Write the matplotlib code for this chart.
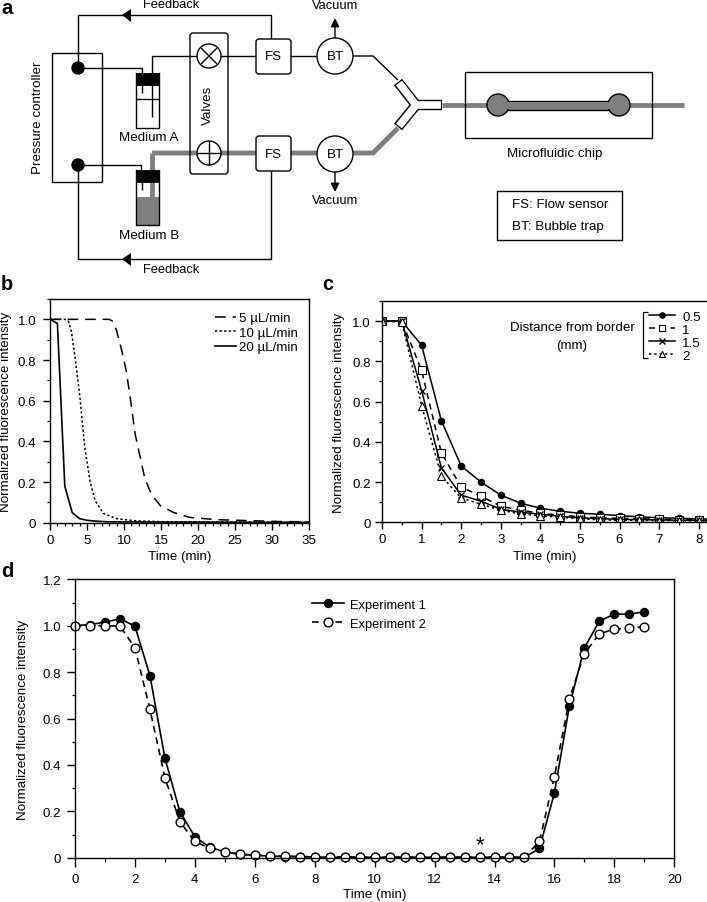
import matplotlib
matplotlib.use('Agg')
import matplotlib.pyplot as plt
from matplotlib.patches import Rectangle, FancyBboxPatch, Circle, Polygon
from matplotlib.ticker import MultipleLocator

plt.rcParams['font.family'] = ['Liberation Sans', 'DejaVu Sans']
plt.rcParams['font.size'] = 9.6
plt.rcParams['axes.linewidth'] = 1.0

W, H = 707, 903
GRAY = '#7f7f7f'

# panel b
t_5 = [0, 8, 8.5, 9, 9.7, 10.3, 10.9, 11.5, 12.2, 12.8, 13.7, 14.9, 16.7, 18.9, 22.5, 27, 31, 35]
v_5 = [1.0, 1.0, 0.99, 0.944, 0.846, 0.747, 0.6, 0.436, 0.32, 0.22, 0.14, 0.084, 0.05, 0.026, 0.015, 0.01, 0.006, 0.004]
t_10 = [0, 2, 2.5, 2.9, 3.5, 4.05, 4.7, 5.4, 6.1, 7.2, 9, 11.3, 15, 35]
v_10 = [1.0, 1.0, 0.99, 0.94, 0.78, 0.616, 0.37, 0.206, 0.108, 0.046, 0.02, 0.01, 0.005, 0.002]
t_20 = [0, 1, 2, 3, 4, 5, 6, 8, 35]
v_20 = [1.0, 0.98, 0.18, 0.05, 0.02, 0.012, 0.008, 0.004, 0.001]

# panel c
t_c = [0, 0.5, 1, 1.5, 2, 2.5, 3, 3.5, 4, 4.5, 5, 5.5, 6, 6.5, 7, 7.5, 8, 8.5]
d_05 = [1, 1, 0.88, 0.505, 0.28, 0.2, 0.135, 0.095, 0.07, 0.055, 0.045, 0.04, 0.033, 0.027, 0.023, 0.02, 0.017, 0.015]
d_1 = [1, 1, 0.755, 0.345, 0.175, 0.13, 0.08, 0.06, 0.045, 0.035, 0.028, 0.022, 0.02, 0.018, 0.015, 0.013, 0.012, 0.01]
d_15 = [1, 1, 0.655, 0.27, 0.135, 0.105, 0.065, 0.05, 0.04, 0.03, 0.022, 0.018, 0.015, 0.013, 0.012, 0.01, 0.01, 0.008]
d_2 = [1, 0.995, 0.58, 0.23, 0.12, 0.09, 0.06, 0.042, 0.032, 0.025, 0.018, 0.012, 0.01, 0.01, 0.008, 0.008, 0.007, 0.006]

# panel d
t_d = [0, 0.5, 1, 1.5, 2, 2.5, 3, 3.5, 4, 4.5, 5, 5.5, 6, 6.5, 7, 7.5, 8, 8.5, 9, 9.5,
       10, 10.5, 11, 11.5, 12, 12.5, 13, 13.5, 14, 14.5, 15, 15.5, 16, 16.5, 17, 17.5, 18, 18.5, 19]
exp1 = [1.0, 1.005, 1.015, 1.03, 0.998, 0.785, 0.43, 0.198, 0.09, 0.045, 0.025, 0.015, 0.01, 0.007, 0.005, 0.004, 0.003, 0.002, 0.002, 0.002,
        0.002, 0.002, 0.002, 0.002, 0.002, 0.002, 0.002, 0.002, 0.002, 0.002, 0.001, 0.04, 0.28, 0.655, 0.905, 1.02, 1.05, 1.05, 1.06]
exp2 = [1.0, 1.0, 1.0, 0.998, 0.905, 0.64, 0.345, 0.155, 0.07, 0.04, 0.025, 0.015, 0.012, 0.009, 0.007, 0.005, 0.004, 0.003, 0.003, 0.003,
        0.002, 0.002, 0.002, 0.002, 0.002, 0.002, 0.002, 0.002, 0.002, 0.002, 0.002, 0.07, 0.35, 0.685, 0.88, 0.965, 0.985, 0.99, 0.995]

fig = plt.figure(figsize=(W / 100, H / 100), dpi=100)


def px_axes(x0, x1, ytop, ybot):
    return fig.add_axes([x0 / W, 1 - ybot / H, (x1 - x0) / W, (ybot - ytop) / H])


# overlay in pixel units for the schematic and the panel letters
ov = fig.add_axes([0, 0, 1, 1], zorder=5)
ov.set_xlim(0, W)
ov.set_ylim(H, 0)
ov.axis('off')
ov.patch.set_alpha(0)


def path(xs, ys, lw=1.0, c='black', z=2):
    ov.plot(xs, ys, color=c, lw=lw, solid_capstyle='butt', solid_joinstyle='miter', zorder=z)


def rbox(x0, y0, x1, y1, r=3, fc='white', lw=1.0, z=4):
    ov.add_patch(FancyBboxPatch((x0 + r, y0 + r), x1 - x0 - 2 * r, y1 - y0 - 2 * r,
                                boxstyle='round,pad=%d' % r, fc=fc, ec='black', lw=lw, zorder=z))


def bottle(y0, filled):
    ov.add_patch(Rectangle((136, y0), 23, 55, fc='white', ec='none', zorder=1))
    if filled:
        ov.add_patch(Rectangle((136, y0 + 27), 23, 28, fc=GRAY, ec='none', zorder=1.5))
    ov.plot([136, 136, 159, 159], [y0, y0 + 55, y0 + 55, y0], color='black', lw=1.0, zorder=3)
    ov.add_patch(Rectangle((136, y0), 23, 12, fc='black', ec='black', lw=0.6, zorder=3))
    path([142, 142], [y0 + 12, y0 + 20])


# thin and thick tubing
path([78, 78, 271, 271], [69, 16, 16, 40])
path([78, 78, 271, 271], [166, 260, 260, 172])
path([78, 142, 142], [69, 69, 74])
path([78, 141, 141], [166, 166, 171])
path([152, 152, 353], [118, 57, 57])
path([353, 373, 398], [57, 57, 81])
path([152, 152], [198, 154], lw=3.5, c=GRAY, z=2.5)
path([152, 353, 373, 398], [154, 154, 154, 129], lw=3.5, c=GRAY)
path([442, 684], [106, 106], lw=3.5, c=GRAY)

ov.add_patch(Rectangle((52, 54), 50, 129, fc='none', ec='black', lw=1.0, zorder=1))
ov.add_patch(Circle((78, 69), 6, fc='black', ec='black', zorder=3))
ov.add_patch(Circle((78, 166), 6, fc='black', ec='black', zorder=3))
ov.add_patch(Polygon([[122, 16], [131, 10], [131, 23]], fc='black', ec='none', zorder=3))
ov.add_patch(Polygon([[122, 260], [131, 254], [131, 267]], fc='black', ec='none', zorder=3))

bottle(74, False)
path([136, 159], [100, 100], z=3)
bottle(171, True)

# valves, sensors and traps
rbox(190, 34, 228, 175, r=3, fc='none', z=3)
for yc in [57, 154]:
    ov.add_patch(Circle((209, yc), 12, fc='white', ec='black', lw=1.0, zorder=4))
path([201, 217], [49, 65], z=5)
path([201, 217], [65, 49], z=5)
path([197, 221], [154, 154], z=5)
path([209, 209], [142, 166], z=5)
for y0 in [40, 137]:
    rbox(256, y0, 291, y0 + 35, r=3)
    ov.text(273.5, y0 + 17.5, 'FS', ha='center', va='center', zorder=6)
for yc in [57, 155]:
    ov.add_patch(Circle((335, yc), 18, fc='white', ec='black', lw=1.0, zorder=4))
    ov.text(335, yc, 'BT', ha='center', va='center', zorder=6)
head = dict(arrowstyle='-|>', color='black', lw=1, shrinkA=0, shrinkB=0, mutation_scale=13)
ov.annotate('', xy=(335, 19), xytext=(335, 39), arrowprops=head)
ov.annotate('', xy=(335, 193), xytext=(335, 173), arrowprops=head)

# Y connector
ov.plot([398, 416], [83, 106], color='black', lw=7.5, solid_capstyle='butt', zorder=3)
ov.plot([398, 416], [128, 106], color='black', lw=7.5, solid_capstyle='butt', zorder=3)
ov.plot([416, 442], [106, 106], color='black', lw=7.5, solid_capstyle='butt', zorder=3)
ov.plot([399, 416], [84, 106], color='white', lw=5.5, solid_capstyle='butt', zorder=3.1)
ov.plot([399, 416], [127, 106], color='white', lw=5.5, solid_capstyle='butt', zorder=3.1)
ov.plot([416, 441], [106, 106], color='white', lw=5.5, solid_capstyle='butt', zorder=3.1)

# chip
ov.add_patch(Rectangle((465, 73), 187, 66, fc='none', ec='black', lw=1.0, zorder=3))
ov.add_patch(Rectangle((498, 102), 121, 9, fc=GRAY, ec='black', lw=1.0, zorder=3))
for xc in [498, 619]:
    ov.add_patch(Circle((xc, 106), 11, fc=GRAY, ec='black', lw=1.0, zorder=3.2))
ov.add_patch(Rectangle((505, 103), 107, 7, fc=GRAY, ec='none', zorder=3.3))
ov.add_patch(Rectangle((497, 192), 125, 49, fc='none', ec='black', lw=1.0, zorder=3))

ov.text(171, 5, 'Feedback', ha='center', va='center', fontsize=9.3)
ov.text(171, 270, 'Feedback', ha='center', va='center', fontsize=9.3)
ov.text(335, 6, 'Vacuum', ha='center', va='center', fontsize=9.3)
ov.text(335, 201, 'Vacuum', ha='center', va='center', fontsize=9.3)
ov.text(149, 138, 'Medium A', ha='center', va='center')
ov.text(149, 236, 'Medium B', ha='center', va='center')
ov.text(38, 118, 'Pressure controller', ha='center', va='center', rotation=90)
ov.text(208, 105, 'Valves', ha='center', va='center', rotation=90, zorder=6)
ov.text(555, 154, 'Microfluidic chip', ha='center', va='center')
ov.text(512, 205, 'FS: Flow sensor', ha='left', va='center')
ov.text(512, 227, 'BT: Bubble trap', ha='left', va='center')

for letter, lx, ly in [('a', 1, 9), ('b', 1, 285), ('c', 322, 285), ('d', 1, 572)]:
    ov.text(lx, ly, letter, fontsize=14.5, fontweight='bold', ha='left', va='center')

# panel b
ax = px_axes(50, 309, 300, 523.7)
ax.plot(t_5, v_5, color='black', lw=1.1, linestyle=(0, (7, 4.5)), label='5 µL/min')
ax.plot(t_10, v_10, color='black', lw=1.1, linestyle=(0, (1.5, 1.5)), label='10 µL/min')
ax.plot(t_20, v_20, color='black', lw=1.2, label='20 µL/min')
ax.set_xlim(0, 35)
ax.set_ylim(0, 1.1)
ax.xaxis.set_major_locator(MultipleLocator(5))
ax.xaxis.set_minor_locator(MultipleLocator(1))
ax.set_yticks([0, 0.2, 0.4, 0.6, 0.8, 1.0], ['0', '0.2', '0.4', '0.6', '0.8', '1.0'])
ax.yaxis.set_minor_locator(MultipleLocator(0.1))
ax.tick_params(which='major', length=5, width=1.0)
ax.tick_params(which='minor', length=2.5, width=0.9)
ax.tick_params(axis='x', which='major', pad=3)
ax.tick_params(axis='y', which='major', pad=5)
ax.set_xlabel('Time (min)', labelpad=3)
ax.set_ylabel('Normalized fluorescence intensity', labelpad=4)
ax.legend(loc='upper right', bbox_to_anchor=(0.957, 0.942), frameon=False, handlelength=1.6,
          handletextpad=0.2, labelspacing=0.16, borderpad=0, borderaxespad=0)

# panel c
ax = px_axes(382, 706.7, 302, 523.3)
ax.plot(t_c, d_05, color='black', lw=1.1, marker='o', ms=4.4, mfc='black', label='0.5')
ax.plot(t_c, d_1, color='black', lw=1.1, linestyle=(0, (4, 3)), marker='s', ms=5.5, mfc='white', mew=0.8, label='1')
ax.plot(t_c, d_15, color='black', lw=1.1, marker='x', ms=5, mew=1, label='1.5')
ax.plot(t_c, d_2, color='black', lw=1.1, linestyle=(0, (1.5, 2)), marker='^', ms=5.5, mfc='white', mew=0.8, label='2')
ax.set_xlim(0, 8.2)
ax.set_ylim(0, 1.1)
ax.xaxis.set_major_locator(MultipleLocator(1))
ax.xaxis.set_minor_locator(MultipleLocator(0.5))
ax.set_yticks([0, 0.2, 0.4, 0.6, 0.8, 1.0], ['0', '0.2', '0.4', '0.6', '0.8', '1.0'])
ax.yaxis.set_minor_locator(MultipleLocator(0.1))
ax.tick_params(which='major', length=5, width=1.0)
ax.tick_params(which='minor', length=2.5, width=0.9)
ax.tick_params(axis='x', which='major', pad=3)
ax.tick_params(axis='y', which='major', pad=3)
ax.spines['right'].set_visible(False)
ax.set_xlabel('Time (min)', labelpad=3)
ax.set_ylabel('Normalized fluorescence intensity', labelpad=5.5)
ax.legend(loc='upper right', bbox_to_anchor=(0.982, 0.957), frameon=False, handlelength=1.9, markerscale=0.85,
          handletextpad=0.55, labelspacing=0.05, borderpad=0, borderaxespad=0)
ov.text(572, 328, 'Distance from border', ha='center', va='center')
ov.text(572, 346, '(mm)', ha='center', va='center')
path([648, 643, 643, 648], [313, 313, 359, 359], lw=0.9)

# panel d
ax = px_axes(75, 674.3, 580.3, 858.7)
ax.plot(t_d, exp1, color='black', lw=1.2, marker='o', ms=5.8, mfc='black', label='Experiment 1', clip_on=False)
ax.plot(t_d, exp2, color='black', lw=1.2, linestyle=(0, (4, 3)), marker='o', ms=6.3, mfc='white', mew=1.0,
        label='Experiment 2', clip_on=False)
ax.set_xlim(0, 20)
ax.set_ylim(0, 1.2)
ax.xaxis.set_major_locator(MultipleLocator(2))
ax.xaxis.set_minor_locator(MultipleLocator(1))
ax.set_yticks([0, 0.2, 0.4, 0.6, 0.8, 1.0, 1.2], ['0', '0.2', '0.4', '0.6', '0.8', '1.0', '1.2'])
ax.yaxis.set_minor_locator(MultipleLocator(0.1))
ax.tick_params(axis='x', which='major', length=6.5, width=1.0, pad=4.5)
ax.tick_params(axis='x', which='minor', length=3.2, width=0.9)
ax.tick_params(axis='y', which='major', length=6, width=1.0, pad=4)
ax.tick_params(axis='y', which='minor', length=2.5, width=0.9)
ax.set_xlabel('Time (min)', labelpad=2)
ax.set_ylabel('Normalized fluorescence intensity', labelpad=9.5)
ax.legend(loc='upper left', bbox_to_anchor=(0.395, 0.93), frameon=False, handlelength=2.5, fontsize=9.3,
          handletextpad=0.5, labelspacing=0.55, borderpad=0, borderaxespad=0)
ax.text(13.5, 0.055, '*', fontsize=16, ha='center', va='center')

fig.savefig('out.png', dpi=100)
